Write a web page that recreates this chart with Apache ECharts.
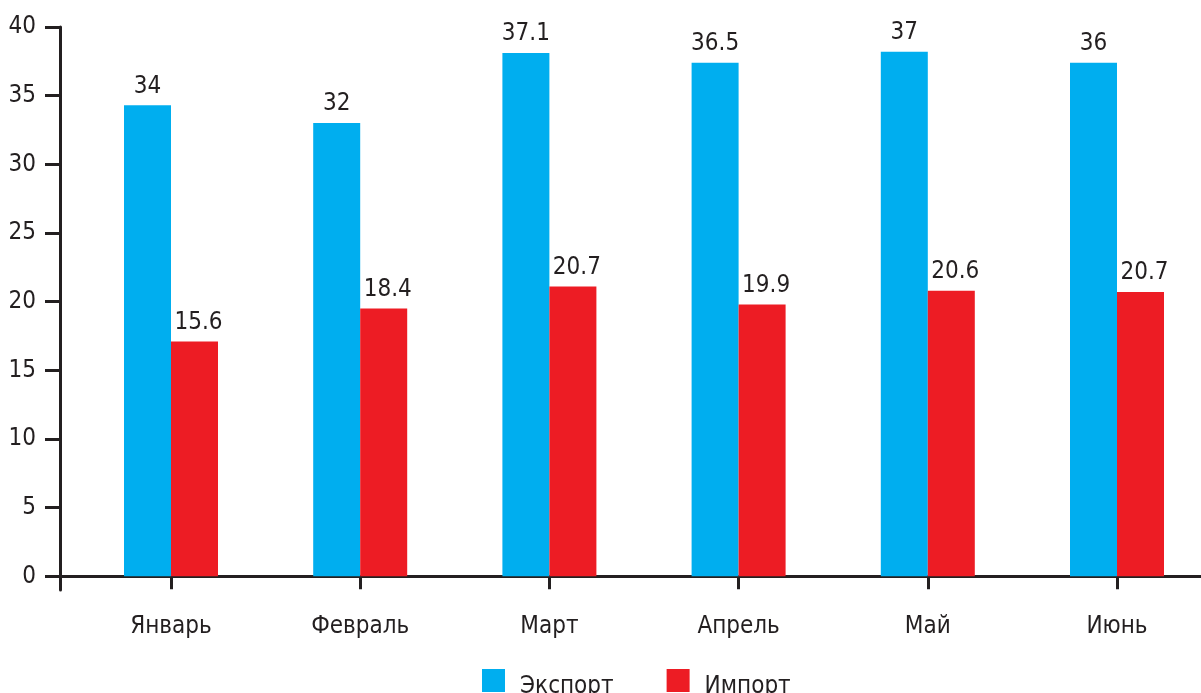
<!DOCTYPE html>
<html><head><meta charset="utf-8">
<script src="https://cdn.jsdelivr.net/npm/echarts@6/dist/echarts.min.js"></script>
<style>html,body{margin:0;padding:0;background:#fff}#c{width:1201px;height:693px}</style>
</head><body><div id="c"></div>
<script>
const categories = ['Январь','Февраль','Март','Апрель','Май','Июнь'];
const seriesNames = ['Экспорт','Импорт'];
// bar heights as drawn in the picture
const exportHeights = [34.3, 33.0, 38.1, 37.4, 38.2, 37.4];
const importHeights = [17.1, 19.5, 21.1, 19.8, 20.8, 20.7];
// value labels as printed above bars
const exportLabels = ['34','32','37.1','36.5','37','36'];
const importLabels = ['15.6','18.4','20.7','19.9','20.6','20.7'];
const yTicks = [0,5,10,15,20,25,30,35,40];

const FONT = '"Liberation Sans Narrow","DejaVu Sans Condensed",sans-serif';
const INK = '#231f20';
const BLUE = '#00AEEF', RED = '#ED1C24';

const chart = echarts.init(document.getElementById('c'), null, {renderer:'canvas'});
function lbl(arr, dx){ return {show:true, position:'top', distance:7, offset:[dx,0], color:INK, fontFamily:FONT, fontSize:24,
  formatter: p => arr[p.dataIndex]}; }
chart.setOption({
  animation:false,
  textStyle:{fontFamily:FONT},
  grid:[
    {left:76.4, width:1135.2, top:27, bottom:103, outerBoundsMode:'none', containLabel:false},
    {left:60, right:0, top:27, bottom:103, outerBoundsMode:'none', containLabel:false}
  ],
  legend:{
    left:482, top:669, padding:0, itemWidth:23, itemHeight:23, itemGap:53,
    icon:'rect',
    formatter:'{t|{name}}',
    textStyle:{color:INK, fontFamily:FONT, fontSize:24,
      rich:{t:{color:INK, fontFamily:FONT, fontSize:24, padding:[12,0,0,10]}}},
    data:seriesNames
  },
  xAxis:[
    {type:'category', gridIndex:0, data:categories,
     axisLine:{show:false, onZero:true},
     axisTick:{show:true, alignWithLabel:true, length:13, lineStyle:{color:INK, width:3}},
     axisLabel:{color:INK, fontFamily:FONT, fontSize:24, margin:25}},
    {type:'value', gridIndex:1, min:0, max:1, axisLine:{show:true, onZero:true, lineStyle:{color:INK, width:3}},
     axisTick:{show:false}, axisLabel:{show:false}, splitLine:{show:false}}
  ],
  yAxis:[
    {type:'value', gridIndex:0, min:-1, max:40, show:false, splitLine:{show:false}},
    {type:'value', gridIndex:1, min:-1, max:40,
     axisLine:{show:true, lineStyle:{color:INK, width:3}},
     axisTick:{show:true, inside:false, length:15, customValues:yTicks, lineStyle:{color:INK, width:3}},
     axisLabel:{color:INK, fontFamily:FONT, fontSize:24, margin:24, customValues:yTicks},
     splitLine:{show:false}}
  ],
  series:[
    {name:seriesNames[0], type:'bar', xAxisIndex:0, yAxisIndex:0, data:exportHeights,
     barWidth:47, barGap:'0%', itemStyle:{color:BLUE}, label:lbl(exportLabels, 0)},
    {name:seriesNames[1], type:'bar', xAxisIndex:0, yAxisIndex:0, data:importHeights,
     barWidth:47, barGap:'0%', itemStyle:{color:RED}, label:lbl(importLabels, 4)}
  ]
});
</script></body></html>
